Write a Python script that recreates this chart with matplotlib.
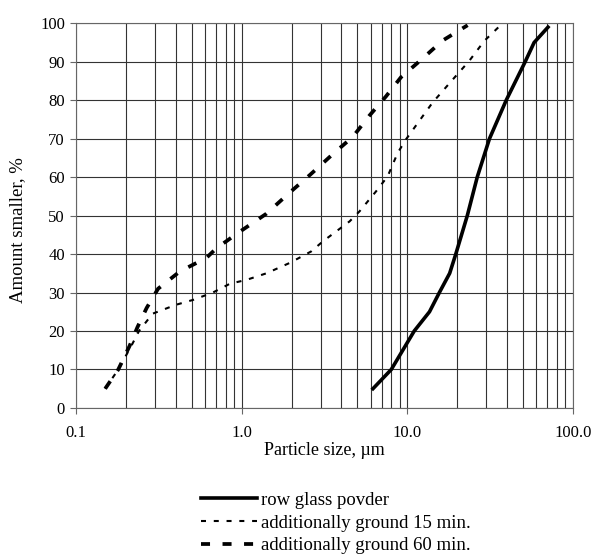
import matplotlib
matplotlib.use('Agg')
import matplotlib.pyplot as plt
from matplotlib.ticker import LogLocator, FixedLocator, NullFormatter

plt.rcParams['font.family'] = ['Liberation Serif', 'DejaVu Serif']
plt.rcParams['font.size'] = 12
plt.rcParams['lines.scale_dashes'] = False

# raw glass powder
raw_x = [6.2, 8.0, 11.0, 13.6, 15.6, 18.0, 19.6, 23.0, 26.4, 31.3, 39.5, 51.4, 58.2, 70.6]
raw_y = [5, 10, 20, 25, 30, 35, 40, 50, 60, 70, 80, 90, 95, 99]

# additionally ground 15 min
g15_x = [0.15, 0.18, 0.215, 0.24, 0.29, 0.40, 0.51, 0.67, 0.85, 1.07, 1.41, 1.95, 2.63,
         3.09, 4.48, 5.14, 6.47, 7.6, 8.74, 9.8, 12.4, 14.2, 18.8, 23.6, 29.1, 35.5]
g15_y = [5, 10, 16, 20, 24.5, 26.8, 28.1, 30, 32.3, 33.3, 35, 37.7, 40.7,
         43.3, 48.5, 51.1, 56.3, 60.2, 66.3, 69.8, 75.9, 79.4, 85.4, 90.2, 95.4, 99]

# additionally ground 60 min
g60_x = [0.15, 0.18, 0.21, 0.235, 0.267, 0.313, 0.424, 0.612, 0.704, 0.95, 1.41, 1.95,
         2.57, 3.55, 4.69, 5.9, 7.43, 9.16, 12.1, 16.3, 23.1]
g60_y = [5, 10, 16, 21, 26, 31, 35.5, 39, 41.5, 45.5, 50.5, 56,
         60.5, 66, 70.5, 76, 81, 86, 90.5, 95.5, 99.5]

labels = ['row glass povder', 'additionally ground 15 min.', 'additionally ground 60 min.']
x_ticks = [0.1, 1.0, 10.0, 100.0]
x_tick_labels = ['0.1', '1.0', '10.0', '100.0']

fig = plt.figure(figsize=(5.96, 5.55), dpi=100)
ax = fig.add_axes([0.1275, 0.265, 0.834, 0.693])

ax.plot(raw_x, raw_y, color='black', lw=2.6, solid_joinstyle='round', label=labels[0])
ax.plot(g15_x, g15_y, color='black', lw=1.5, dashes=(3.6, 5.6), label=labels[1])
ax.plot(g60_x, g60_y, color='black', lw=2.7, dashes=(6.5, 9), label=labels[2])

ax.set_xscale('log')
ax.set_xlim(0.1, 100)
ax.set_ylim(0, 100)
ax.xaxis.set_major_locator(FixedLocator(x_ticks))
ax.set_xticklabels(x_tick_labels)
ax.xaxis.set_minor_locator(LogLocator(base=10, subs=range(2, 10)))
ax.xaxis.set_minor_formatter(NullFormatter())
ax.set_yticks(range(0, 101, 10))

ax.grid(True, which='both', axis='x', color='#333333', lw=0.8)
ax.grid(True, which='major', axis='y', color='#333333', lw=0.8)
ax.set_axisbelow(True)
for s in ax.spines.values():
    s.set_color('#666666')
    s.set_linewidth(0.8)

ax.tick_params(which='major', direction='out', length=4, width=0.8, color='#666666', pad=8)
ax.tick_params(which='minor', length=0)
ax.tick_params(axis='y', pad=4)

ax.set_xlabel('Particle size, \u00b5m', fontsize=13, labelpad=1)
ax.set_ylabel('Amount smaller, %', fontsize=13.5)
ax.yaxis.set_label_coords(-0.1, 0.462)

fig.legend(loc='upper left', bbox_to_anchor=(0.337, 0.114), frameon=False,
           handlelength=3.0, handletextpad=0.2, labelspacing=0.3, borderpad=0,
           borderaxespad=0, fontsize=13.5)

fig.savefig('out.png', dpi=100)
